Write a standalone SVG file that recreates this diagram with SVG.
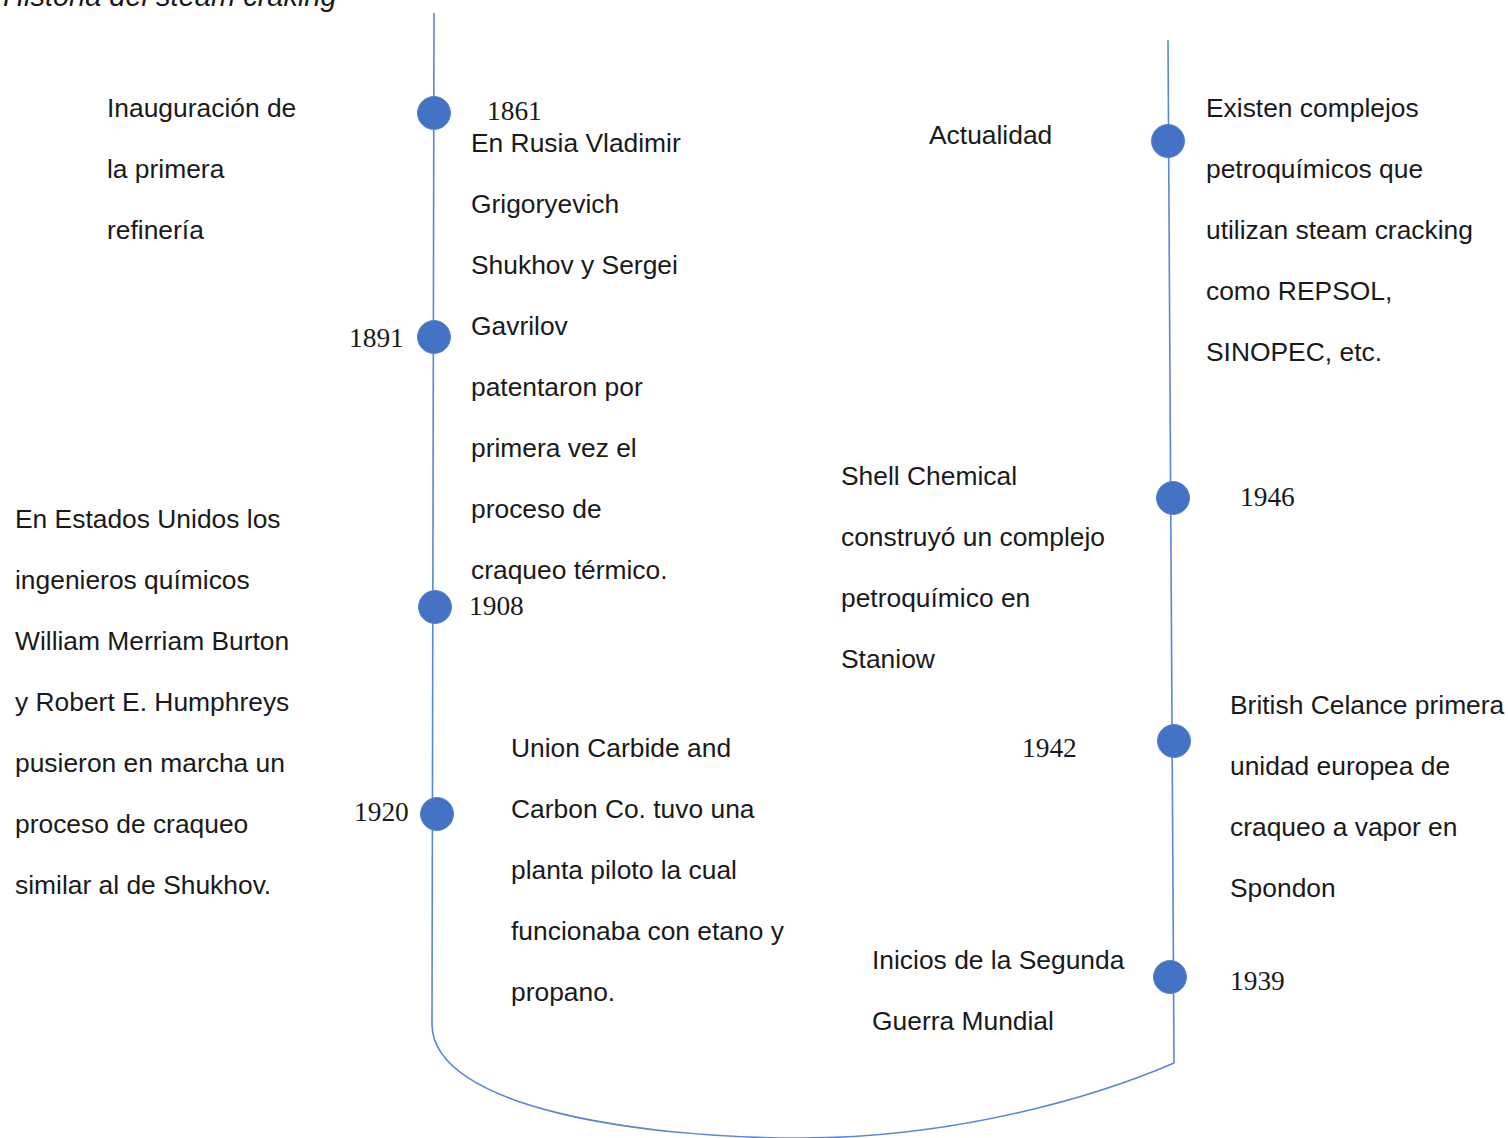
<svg xmlns="http://www.w3.org/2000/svg" width="1508" height="1138" viewBox="0 0 1508 1138">
<style>
.t{font-family:"Liberation Sans",Arial,sans-serif;font-size:26.4px;fill:#1a1a1a}
.y{font-family:"Liberation Serif","Times New Roman",serif;font-size:27.4px;fill:#1a1a1a}
.ttl{font-family:"Liberation Sans",Arial,sans-serif;font-size:29px;font-style:italic;fill:#1a1a1a}
.ln{fill:none;stroke:#5b86d6;stroke-width:1.6}
.dot{fill:#4472c4;stroke:#5a84d0;stroke-width:1}
</style>
<rect width="1508" height="1138" fill="#ffffff"/>
<text class="ttl" x="3" y="6">Historia del steam craking</text>
<g id="connectors">
<path class="ln" d="M434,13 L432,1025"/>
<path class="ln" d="M1168,40 L1174,1063"/>
<path class="ln" d="M432,1025 C434,1108 640,1138 800,1138 C960,1138 1100,1095 1174,1063"/>
</g>
<g id="n1861">
<circle class="dot" cx="434" cy="113" r="16.5"/>
<text class="y" x="487" y="120">1861</text>
<text class="t" x="107" y="117">Inauguración de</text>
<text class="t" x="107" y="178">la primera</text>
<text class="t" x="107" y="239">refinería</text>
</g>
<g id="n1891">
<circle class="dot" cx="434" cy="337" r="16.5"/>
<text class="y" x="349" y="347">1891</text>
<text class="t" x="471" y="152">En Rusia Vladimir</text>
<text class="t" x="471" y="213">Grigoryevich</text>
<text class="t" x="471" y="274">Shukhov y Sergei</text>
<text class="t" x="471" y="335">Gavrilov</text>
<text class="t" x="471" y="396">patentaron por</text>
<text class="t" x="471" y="457">primera vez el</text>
<text class="t" x="471" y="518">proceso de</text>
<text class="t" x="471" y="579">craqueo térmico.</text>
</g>
<g id="n1908">
<circle class="dot" cx="435" cy="607" r="16.5"/>
<text class="y" x="469" y="615">1908</text>
<text class="t" x="15" y="528">En Estados Unidos los</text>
<text class="t" x="15" y="589">ingenieros químicos</text>
<text class="t" x="15" y="650">William Merriam Burton</text>
<text class="t" x="15" y="711">y Robert E. Humphreys</text>
<text class="t" x="15" y="772">pusieron en marcha un</text>
<text class="t" x="15" y="833">proceso de craqueo</text>
<text class="t" x="15" y="894">similar al de Shukhov.</text>
</g>
<g id="n1920">
<circle class="dot" cx="437" cy="814" r="16.5"/>
<text class="y" x="354" y="821">1920</text>
<text class="t" x="511" y="757">Union Carbide and</text>
<text class="t" x="511" y="818">Carbon Co. tuvo una</text>
<text class="t" x="511" y="879">planta piloto la cual</text>
<text class="t" x="511" y="940">funcionaba con etano y</text>
<text class="t" x="511" y="1001">propano.</text>
</g>
<g id="n1939">
<circle class="dot" cx="1170" cy="977" r="16.5"/>
<text class="y" x="1230" y="990">1939</text>
<text class="t" x="872" y="969">Inicios de la Segunda</text>
<text class="t" x="872" y="1030">Guerra Mundial</text>
</g>
<g id="n1942">
<circle class="dot" cx="1174" cy="741" r="16.5"/>
<text class="y" x="1022" y="757">1942</text>
<text class="t" x="1230" y="714">British Celance primera</text>
<text class="t" x="1230" y="775">unidad europea de</text>
<text class="t" x="1230" y="836">craqueo a vapor en</text>
<text class="t" x="1230" y="897">Spondon</text>
</g>
<g id="n1946">
<circle class="dot" cx="1173" cy="498" r="16.5"/>
<text class="y" x="1240" y="506">1946</text>
<text class="t" x="841" y="485">Shell Chemical</text>
<text class="t" x="841" y="546">construyó un complejo</text>
<text class="t" x="841" y="607">petroquímico en</text>
<text class="t" x="841" y="668">Staniow</text>
</g>
<g id="nActualidad">
<circle class="dot" cx="1168" cy="141" r="16.5"/>
<text class="t" x="929" y="144">Actualidad</text>
<text class="t" x="1206" y="117">Existen complejos</text>
<text class="t" x="1206" y="178">petroquímicos que</text>
<text class="t" x="1206" y="239">utilizan steam cracking</text>
<text class="t" x="1206" y="300">como REPSOL,</text>
<text class="t" x="1206" y="361">SINOPEC, etc.</text>
</g>
</svg>
